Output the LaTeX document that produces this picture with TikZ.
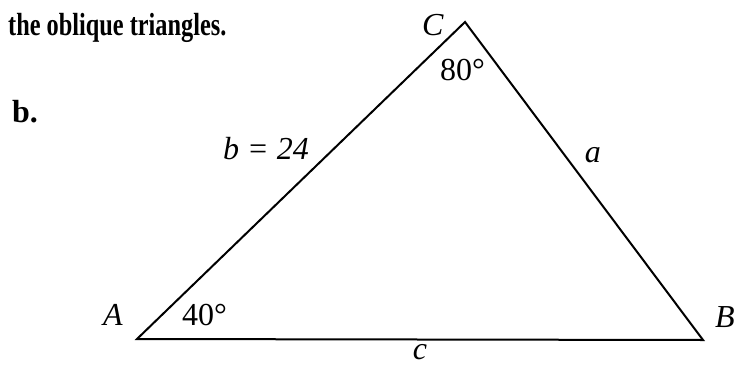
\documentclass[tikz,border=0pt]{standalone}
\usepackage{fontspec}
\setmainfont{Liberation Serif}
\newcommand\lblfont{\fontsize{32}{38}\selectfont}
\begin{document}
\begin{tikzpicture}[x=1pt, y=-1pt, every node/.style={inner sep=0pt, font=\lblfont}]
    \useasboundingbox (0,0) rectangle (749,364);
    \node[anchor=base west] (title) at (8,35) {\scalebox{.76}[1]{\bfseries the oblique triangles.}};
    \node[anchor=base west] (part) at (12,122) {\bfseries b.};
    \coordinate (A) at (137,339);
    \coordinate (B) at (703,340);
    \coordinate (C) at (465,22);
    \draw[line width=2pt, line join=miter] (A) -- node[pos=.6, left=24pt] {\itshape b = 24} (C)
        -- node[pos=.42, right=19pt] {\itshape a} (B)
        -- node[below=4pt] {\itshape c} cycle;
    \node[anchor=base west] (lA) at (103,325) {\itshape A};
    \node[anchor=base west] (lB) at (715,327) {\itshape B};
    \node[anchor=base west] (lC) at (422,35) {\itshape C};
    \node[anchor=base west] (angA) at (182,325) {40°};
    \node[anchor=base west] (angC) at (440,80) {80°};
\end{tikzpicture}
\end{document}
